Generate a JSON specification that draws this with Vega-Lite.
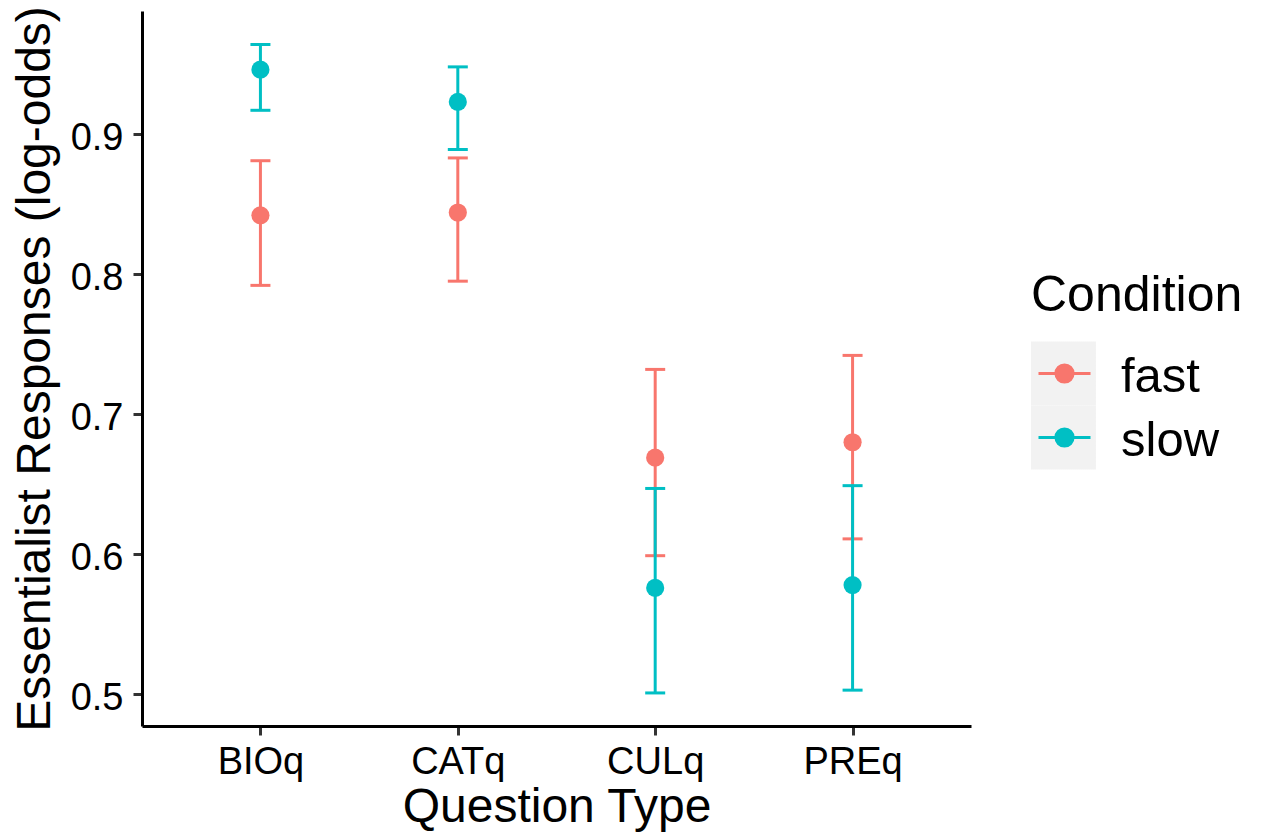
{
  "$schema": "https://vega.github.io/schema/vega-lite/v6.json",
  "width": 829,
  "height": 715,
  "autosize": {"type": "none"},
  "padding": {"left": 142, "top": 11, "right": 297, "bottom": 113},
  "background": "white",
  "data": {
    "values": [
      {"q": "BIOq", "cond": "fast", "mean": 0.842, "lo": 0.792, "hi": 0.881},
      {"q": "CATq", "cond": "fast", "mean": 0.844, "lo": 0.795, "hi": 0.883},
      {"q": "CULq", "cond": "fast", "mean": 0.669, "lo": 0.599, "hi": 0.732},
      {"q": "PREq", "cond": "fast", "mean": 0.680, "lo": 0.611, "hi": 0.742},
      {"q": "BIOq", "cond": "slow", "mean": 0.946, "lo": 0.917, "hi": 0.964},
      {"q": "CATq", "cond": "slow", "mean": 0.923, "lo": 0.889, "hi": 0.948},
      {"q": "CULq", "cond": "slow", "mean": 0.576, "lo": 0.501, "hi": 0.647},
      {"q": "PREq", "cond": "slow", "mean": 0.578, "lo": 0.503, "hi": 0.649}
    ]
  },
  "encoding": {
    "x": {
      "field": "q",
      "type": "nominal",
      "scale": {"type": "point", "padding": 0.6, "domain": ["BIOq", "CATq", "CULq", "PREq"]},
      "title": "Question Type",
      "axis": {"labelAngle": 0, "labelPadding": 8, "titlePadding": 2}
    },
    "color": {
      "field": "cond",
      "type": "nominal",
      "scale": {"domain": ["fast", "slow"], "range": ["#F8766D", "#00BFC4"]},
      "title": "Condition",
      "legend": {
        "orient": "none",
        "legendX": 889,
        "legendY": 259.5,
        "padding": 0,
        "titleFontSize": 50,
        "titleFont": "Liberation Sans",
        "titleFontWeight": "normal",
        "titleColor": "black",
        "titlePadding": 21,
        "titleLimit": 600,
        "labelLimit": 400,
        "labelFontSize": 49,
        "labelFont": "Liberation Sans",
        "labelColor": "black",
        "symbolType": "M-1,0L1,0M0.33,0A0.33,0.33,0,1,1,-0.33,0A0.33,0.33,0,1,1,0.33,0Z",
        "symbolSize": 2704,
        "symbolStrokeWidth": 3,
        "symbolOffset": 6,
        "labelOffset": 29,
        "clipHeight": 64,
        "rowPadding": 0,
        "encode": {
          "symbols": {
            "update": {
              "fill": {"scale": "color", "field": "value"},
              "stroke": {"scale": "color", "field": "value"},
              "strokeWidth": {"value": 3},
              "opacity": {"value": 1}
            }
          },
          "labels": {"update": {"dy": {"value": 3}}},
          "entries": {
            "update": {
              "fill": {"value": {
                "gradient": "linear",
                "x1": 0, "x2": 1, "y1": 0, "y2": 0,
                "stops": [
                  {"offset": 0, "color": "#F2F2F2"},
                  {"offset": 0.343, "color": "#F2F2F2"},
                  {"offset": 0.344, "color": "#FFFFFF"},
                  {"offset": 1, "color": "#FFFFFF"}
                ]
              }},
              "height": {"value": 64}
            }
          }
        }
      }
    }
  },
  "layer": [
    {
      "transform": [{"filter": "datum.cond == 'fast'"}],
      "mark": {"type": "rule", "strokeWidth": 3},
      "encoding": {
        "y": {"field": "lo", "type": "quantitative", "scale": {"domain": [0.4774, 0.9879], "nice": false, "zero": false}, "title": "Essentialist Responses (log-odds)", "axis": {"values": [0.5, 0.6, 0.7, 0.8, 0.9], "format": ".1f", "labelPadding": 10, "titlePadding": 11, "labelOffset": 4}},
        "y2": {"field": "hi"}
      }
    },
    {
      "transform": [{"filter": "datum.cond == 'fast'"}],
      "mark": {"type": "tick", "orient": "horizontal", "size": 20, "thickness": 3, "opacity": 1},
      "encoding": {
        "y": {"field": "lo", "type": "quantitative", "scale": {"domain": [0.4774, 0.9879], "nice": false, "zero": false}, "title": "Essentialist Responses (log-odds)", "axis": {"values": [0.5, 0.6, 0.7, 0.8, 0.9], "format": ".1f", "labelPadding": 10, "titlePadding": 11, "labelOffset": 4}}
      }
    },
    {
      "transform": [{"filter": "datum.cond == 'fast'"}],
      "mark": {"type": "tick", "orient": "horizontal", "size": 20, "thickness": 3, "opacity": 1},
      "encoding": {
        "y": {"field": "hi", "type": "quantitative", "scale": {"domain": [0.4774, 0.9879], "nice": false, "zero": false}, "title": "Essentialist Responses (log-odds)", "axis": {"values": [0.5, 0.6, 0.7, 0.8, 0.9], "format": ".1f", "labelPadding": 10, "titlePadding": 11, "labelOffset": 4}}
      }
    },
    {
      "transform": [{"filter": "datum.cond == 'slow'"}],
      "mark": {"type": "rule", "strokeWidth": 3},
      "encoding": {
        "y": {"field": "lo", "type": "quantitative", "scale": {"domain": [0.4774, 0.9879], "nice": false, "zero": false}, "title": "Essentialist Responses (log-odds)", "axis": {"values": [0.5, 0.6, 0.7, 0.8, 0.9], "format": ".1f", "labelPadding": 10, "titlePadding": 11, "labelOffset": 4}},
        "y2": {"field": "hi"}
      }
    },
    {
      "transform": [{"filter": "datum.cond == 'slow'"}],
      "mark": {"type": "tick", "orient": "horizontal", "size": 20, "thickness": 3, "opacity": 1},
      "encoding": {
        "y": {"field": "lo", "type": "quantitative", "scale": {"domain": [0.4774, 0.9879], "nice": false, "zero": false}, "title": "Essentialist Responses (log-odds)", "axis": {"values": [0.5, 0.6, 0.7, 0.8, 0.9], "format": ".1f", "labelPadding": 10, "titlePadding": 11, "labelOffset": 4}}
      }
    },
    {
      "transform": [{"filter": "datum.cond == 'slow'"}],
      "mark": {"type": "tick", "orient": "horizontal", "size": 20, "thickness": 3, "opacity": 1},
      "encoding": {
        "y": {"field": "hi", "type": "quantitative", "scale": {"domain": [0.4774, 0.9879], "nice": false, "zero": false}, "title": "Essentialist Responses (log-odds)", "axis": {"values": [0.5, 0.6, 0.7, 0.8, 0.9], "format": ".1f", "labelPadding": 10, "titlePadding": 11, "labelOffset": 4}}
      }
    },
    {
      "mark": {"type": "point", "filled": true, "size": 330, "opacity": 1},
      "encoding": {
        "y": {"field": "mean", "type": "quantitative", "scale": {"domain": [0.4774, 0.9879], "nice": false, "zero": false}, "title": "Essentialist Responses (log-odds)", "axis": {"values": [0.5, 0.6, 0.7, 0.8, 0.9], "format": ".1f", "labelPadding": 10, "titlePadding": 11, "labelOffset": 4}}
      }
    }
  ],
  "config": {
    "view": {"stroke": null},
    "axis": {
      "grid": false,
      "domainColor": "black",
      "domainWidth": 3,
      "tickColor": "#333333",
      "tickWidth": 3,
      "tickSize": 9,
      "labelColor": "black",
      "titleColor": "black",
      "labelFont": "Liberation Sans",
      "titleFont": "Liberation Sans",
      "labelFontSize": 38,
      "titleFontSize": 48,
      "titleFontWeight": "normal",
      "titleLimit": 1000
    }
  }
}
